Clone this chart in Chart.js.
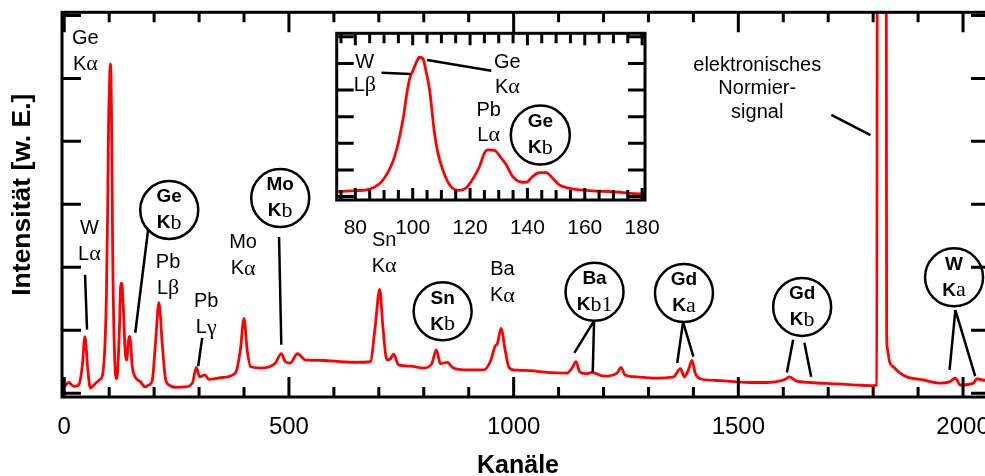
<!DOCTYPE html>
<html>
<head>
<meta charset="utf-8">
<script src="https://cdn.jsdelivr.net/npm/chart.js@4.4.1/dist/chart.umd.min.js"></script>
<style>
  html, body { margin: 0; padding: 0; background: #fff; overflow: hidden; }
  #wrap { position: relative; width: 985px; height: 476px; overflow: hidden; }
  #main { position: absolute; left: 0; top: 0; }
  #inset { position: absolute; left: 300px; top: 20px; }
</style>
</head>
<body>
<div id="wrap">
  <canvas id="main" width="992" height="476"></canvas>
  <canvas id="inset" width="380" height="225"></canvas>
</div>
<script>
// spectrum: channel and intensity (arbitrary units)
const channels = [
  0, 10, 21, 32, 40, 46, 52, 58, 66, 75, 80, 85, 89.7, 93.7, 96.6, 98, 99, 100, 101.3, 102.4,
  103.6, 104.8, 105.9, 107.6, 108.8, 110.5, 112.2, 113.9, 116.2, 118.5, 120.8, 123.3, 125, 126.2, 128.5, 130.9,
  132.6, 134.9, 137.2, 139.6, 141.8, 144.2, 146.5, 148.8, 151.1, 154.6, 160.4, 169.7, 179.6, 188,
  196, 203, 210.7, 218, 225, 233, 248, 270, 285, 294, 301, 313, 322, 352, 381, 392, 400, 407, 415, 441,
  470, 483, 492, 503, 519, 536, 577, 614, 651, 681, 692, 702, 709, 718, 725, 733, 744, 770, 800, 818,
  828, 837, 852, 866, 896, 933, 948, 959, 964, 972, 981, 989, 1000, 1037, 1074, 1119, 1130, 1139, 1147, 1163,
  1174, 1200, 1230, 1239, 1248, 1274, 1311, 1356, 1371, 1380, 1389, 1397, 1404, 1415, 1460, 1497, 1526, 1564, 1601, 1614,
  1627, 1660, 1712, 1764, 1801, 1808, 1810, 1828, 1830, 1831, 1836.5, 1845, 1860, 1875, 1912, 1949, 1970, 1983, 1994, 2023,
  2031, 2042, 2060
];
const counts = [
  0.10, 0.17, 0.11, 0.13, 0.42, 0.90, 0.42, 0.08, 0.13, 0.19, 0.22, 0.28, 0.63, 1.5, 2.88, 3.9, 4.45, 4.7, 5.05, 5.23,
  5.17, 4.63, 4.0, 2.38, 1.63, 1.0, 0.56, 0.31, 0.23, 0.31, 0.63, 1.13, 1.63, 1.75, 1.73, 1.44,
  1.19, 0.75, 0.56, 0.53, 0.75, 0.9, 0.9, 0.69, 0.44, 0.31, 0.23, 0.18, 0.10, 0.13,
  0.21, 0.79, 1.44, 0.79, 0.24, 0.13, 0.095, 0.10, 0.16, 0.41, 0.26, 0.29, 0.22, 0.25, 0.32, 0.69, 1.19, 0.69, 0.42, 0.40,
  0.48, 0.63, 0.50, 0.48, 0.63, 0.53, 0.52, 0.50, 0.49, 0.50, 1.06, 1.65, 1.06, 0.53, 0.54, 0.62, 0.45, 0.43, 0.40, 0.47,
  0.69, 0.47, 0.49, 0.40, 0.37, 0.37, 0.50, 0.75, 0.79, 1.03, 0.69, 0.42, 0.37, 0.36, 0.33, 0.32, 0.40, 0.50, 0.34, 0.31,
  0.33, 0.27, 0.32, 0.41, 0.29, 0.26, 0.24, 0.26, 0.39, 0.26, 0.37, 0.52, 0.32, 0.23, 0.20, 0.18, 0.17, 0.17, 0.21, 0.26,
  0.20, 0.17, 0.15, 0.13, 0.12, 0.13, 14, 14, 1.0, 0.74, 0.50, 0.42, 0.32, 0.26, 0.21, 0.16, 0.18, 0.24, 0.13, 0.16,
  0.23, 0.21, 0.20
];
const mainTickLabels = [0, 500, 1000, 1500, 2000];
const insetTickLabels = [80, 100, 120, 140, 160, 180];

// line labels, in data coordinates of the chart they sit on
const mainLabels = [
  { x: 47, y: 5.64, lines: ['Ge', 'Kα'] },
  { x: 56, y: 2.62, lines: ['W', 'Lα'] },
  { x: 231, y: 2.08, lines: ['Pb', 'Lβ'] },
  { x: 316, y: 1.45, lines: ['Pb', 'Lγ'] },
  { x: 398, y: 2.39, lines: ['Mo', 'Kα'] },
  { x: 712, y: 2.43, lines: ['Sn', 'Kα'] },
  { x: 975, y: 1.96, lines: ['Ba', 'Kα'] },
  { x: 1542, y: 5.21, lines: ['elektronisches', 'Normier-', 'signal'], gap: 23.5 }
];
const mainCircles = [
  { x: 233.6, y: 2.91, top: 'Ge', sub: 'b' },
  { x: 480.6, y: 3.10, top: 'Mo', sub: 'b' },
  { x: 842, y: 1.30, top: 'Sn', sub: 'b' },
  { x: 1180, y: 1.61, top: 'Ba', sub: 'b1' },
  { x: 1379, y: 1.59, top: 'Gd', sub: 'a' },
  { x: 1642, y: 1.37, top: 'Gd', sub: 'b' },
  { x: 1980, y: 1.84, top: 'W', sub: 'a' }
];
const mainPointers = [
  [46.3, 1.88, 50.7, 1.01], [186.9, 2.61, 158, 0.96], [307, 0.88, 298, 0.43], [478, 2.48, 483, 0.77],
  [1179, 1.15, 1135, 0.64], [1179, 1.15, 1176, 0.33], [1377, 1.13, 1364, 0.48], [1377, 1.13, 1400, 0.58],
  [1622, 0.85, 1608, 0.33], [1647, 0.80, 1662, 0.26], [1983, 1.32, 1970, 0.37], [1983, 1.32, 2027, 0.27],
  [1707, 4.42, 1794, 4.10]
];
const insetLabels = [
  { x: 83.3, y: 5.05, lines: ['W', 'Lβ'], gap: 23 },
  { x: 133, y: 5.05, lines: ['Ge', 'Kα'], gap: 25 },
  { x: 126.5, y: 3.25, lines: ['Pb', 'Lα'], gap: 25 }
];
const insetCircles = [{ x: 144.5, y: 2.31, top: 'Ge', sub: 'b' }];
const insetPointers = [[89.1, 4.65, 99.2, 4.6], [105, 5.13, 127.4, 4.72]];

const SANS = '"Liberation Sans", Arial, sans-serif';
const SERIF = '"Liberation Serif", "Times New Roman", serif';

const points = channels.map((c, i) => ({ x: c, y: counts[i] }));

// split a line so greek letters come out in the serif face, like the symbol font of the original
function splitGreek(line, sansFont, serifFont) {
  const out = [];
  for (const ch of line) {
    const f = /[\u0370-\u03ff]/.test(ch) ? serifFont : sansFont;
    if (out.length && out[out.length - 1].font === f) out[out.length - 1].t += ch;
    else out.push({ t: ch, font: f });
  }
  return out;
}

function drawParts(ctx, parts, cx, cy) {
  let w = 0;
  parts.forEach(p => { ctx.font = p.font; p.w = ctx.measureText(p.t).width; w += p.w; });
  let x = cx - w / 2;
  ctx.textAlign = 'left';
  ctx.textBaseline = 'middle';
  parts.forEach(p => { ctx.font = p.font; ctx.fillText(p.t, x, cy); x += p.w; });
}

// frame with inward ticks on all four sides, plus the axis titles
function framePlugin(cfg) {
  return {
    id: 'frame',
    afterDatasetsDraw(chart) {
      const { ctx, chartArea: a, scales: { x, y } } = chart;
      ctx.save();
      ctx.strokeStyle = '#000';
      ctx.lineWidth = 3;
      ctx.beginPath();
      for (let v = Math.ceil(x.min / cfg.xStep) * cfg.xStep; v <= x.max; v += cfg.xStep) {
        const px = x.getPixelForValue(v);
        const len = Math.abs(v % cfg.xMajor) < 1e-6 ? cfg.xMajorLen : cfg.xMinorLen;
        ctx.moveTo(px, a.bottom); ctx.lineTo(px, a.bottom - len);
        ctx.moveTo(px, a.top); ctx.lineTo(px, a.top + len);
      }
      for (let v = Math.ceil(y.min); v <= y.max; v += 1) {
        const py = y.getPixelForValue(v);
        ctx.moveTo(a.left, py); ctx.lineTo(a.left + cfg.yLen, py);
        ctx.moveTo(a.right, py); ctx.lineTo(a.right - cfg.yLen, py);
      }
      ctx.stroke();
      ctx.strokeRect(a.left, a.top, a.right - a.left, a.bottom - a.top);
      ctx.fillStyle = '#000';
      ctx.textAlign = 'center';
      ctx.textBaseline = 'middle';
      if (cfg.xTitle) {
        ctx.font = 'bold 25px ' + SANS;
        ctx.fillText(cfg.xTitle, 518, 466.5);
      }
      if (cfg.yTitle) {
        const y0 = (a.top + a.bottom) / 2 - 10;
        ctx.translate(23, y0);
        ctx.rotate(-Math.PI / 2);
        ctx.font = 'bold 26.5px ' + SANS;
        ctx.fillText(cfg.yTitle, 0, 0);
      }
      ctx.restore();
    }
  };
}

function notesPlugin(labels, circles, pointers, r) {
  return {
    id: 'notes',
    afterDatasetsDraw(chart) {
      const { ctx, scales: { x, y } } = chart;
      ctx.save();
      ctx.fillStyle = '#000';
      ctx.strokeStyle = '#000';
      ctx.lineWidth = 2.5;
      pointers.forEach(p => {
        ctx.beginPath();
        ctx.moveTo(x.getPixelForValue(p[0]), y.getPixelForValue(p[1]));
        ctx.lineTo(x.getPixelForValue(p[2]), y.getPixelForValue(p[3]));
        ctx.stroke();
      });
      labels.forEach(l => {
        const cx = x.getPixelForValue(l.x);
        const cy = y.getPixelForValue(l.y);
        const gap = l.gap || 26;
        l.lines.forEach((line, i) => {
          drawParts(ctx, splitGreek(line, '20px ' + SANS, '22px ' + SERIF), cx, cy + i * gap);
        });
      });
      circles.forEach(c => {
        const cx = x.getPixelForValue(c.x);
        const cy = y.getPixelForValue(c.y);
        ctx.beginPath();
        ctx.arc(cx, cy, r, 0, Math.PI * 2);
        ctx.stroke();
        drawParts(ctx, [{ t: c.top, font: 'bold 19px ' + SANS }], cx, cy - 13);
        drawParts(ctx, [{ t: 'K', font: 'bold 19px ' + SANS }, { t: c.sub, font: '22px ' + SERIF }], cx, cy + 13);
      });
      ctx.restore();
    }
  };
}

// keep the plot area where the layout padding puts it, without room for edge labels
const noEdgePadding = s => { s.paddingLeft = 0; s.paddingRight = 0; };

const lineSet = {
  data: points,
  borderColor: 'rgb(255,0,0)',
  borderWidth: 2.8,
  pointRadius: 0,
  cubicInterpolationMode: 'monotone',
  fill: false
};

new Chart(document.getElementById('main'), {
  type: 'line',
  data: { datasets: [lineSet] },
  options: {
    responsive: false,
    animation: false,
    events: [],
    devicePixelRatio: 1,
    layout: { padding: { top: 12.3, left: 62, right: 2, bottom: 0 } },
    plugins: { legend: { display: false }, tooltip: { enabled: false } },
    scales: {
      x: {
        type: 'linear', min: -5, max: 2060,
        grid: { display: false }, border: { display: false },
        afterBuildTicks: s => { s.ticks = mainTickLabels.map(v => ({ value: v })); },
        ticks: {
          autoSkip: false, maxRotation: 0, padding: 8, color: '#000',
          font: { family: SANS, size: 24 },
          callback: v => String(v)
        },
        afterFit: s => { s.height = 79; noEdgePadding(s); }
      },
      y: { type: 'linear', min: -0.06, max: 6.05, display: false }
    }
  },
  plugins: [
    framePlugin({ xStep: 100, xMajor: 500, xMinorLen: 10, xMajorLen: 20, yLen: 19,
                  xTitle: 'Kanäle', yTitle: 'Intensität [w. E.]' }),
    notesPlugin(mainLabels, mainCircles, mainPointers, 29)
  ]
});

new Chart(document.getElementById('inset'), {
  type: 'line',
  data: { datasets: [Object.assign({}, lineSet)] },
  options: {
    responsive: false,
    animation: false,
    events: [],
    devicePixelRatio: 1,
    layout: { padding: { top: 13.3, left: 36.7, right: 35, bottom: 0 } },
    plugins: { legend: { display: false }, tooltip: { enabled: false } },
    scales: {
      x: {
        type: 'linear', min: 73.5, max: 181,
        grid: { display: false }, border: { display: false },
        afterBuildTicks: s => { s.ticks = insetTickLabels.map(v => ({ value: v })); },
        ticks: {
          autoSkip: false, maxRotation: 0, padding: 8, color: '#000',
          font: { family: SANS, size: 21 },
          callback: v => String(v)
        },
        afterFit: s => { s.height = 45; noEdgePadding(s); }
      },
      y: { type: 'linear', min: -0.13, max: 6.13, display: false }
    }
  },
  plugins: [
    framePlugin({ xStep: 5, xMajor: 20, xMinorLen: 10, xMajorLen: 12, yLen: 17 }),
    notesPlugin(insetLabels, insetCircles, insetPointers, 29.5)
  ]
});
</script>
</body>
</html>
